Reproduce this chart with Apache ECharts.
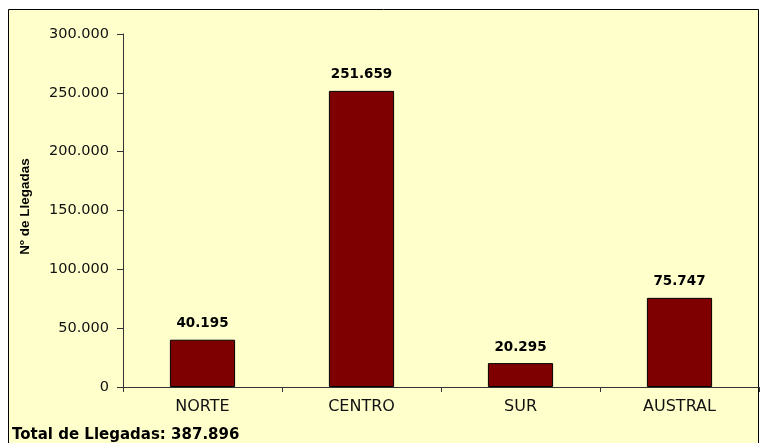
<!DOCTYPE html>
<html>
<head>
<meta charset="utf-8">
<script src="https://cdn.jsdelivr.net/npm/echarts@6/dist/echarts.min.js"></script>
<style>
  html, body { margin: 0; padding: 0; background: #ffffff; }
  #chart { width: 760px; height: 443px; }
</style>
</head>
<body>
<div id="chart"></div>
<script>
// Zonas y llegadas por zona
const zonas = ['NORTE', 'CENTRO', 'SUR', 'AUSTRAL'];
const llegadas = [40195, 251659, 20295, 75747];
const yTicks = [0, 50000, 100000, 150000, 200000, 250000, 300000];
const totalLlegadas = 387896;

// Formato con punto como separador de miles
function miles(v) {
  return String(Math.round(v)).replace(/\B(?=(\d{3})+(?!\d))/g, '.');
}

const FONT = '"DejaVu Sans", Verdana, sans-serif';
const FONT_NAME = '"Liberation Sans", Arial, sans-serif';
const chart = echarts.init(document.getElementById('chart'), null, { renderer: 'canvas' });

chart.setOption({
  backgroundColor: '#ffffff',
  animation: false,
  graphic: [
    {
      type: 'rect',
      z: -10,
      shape: { x: 8.5, y: 9.5, width: 750, height: 460 },
      style: { fill: '#FFFFCC', stroke: '#000000', lineWidth: 1 }
    },
    {
      type: 'text',
      left: 12,
      top: 428,
      style: {
        text: 'Total de Llegadas: ' + miles(totalLlegadas),
        font: 'bold 15px ' + FONT,
        fill: '#000000'
      }
    }
  ],
  grid: { left: 123, right: 1, top: 34, bottom: 56, containLabel: false },
  xAxis: {
    type: 'category',
    data: zonas,
    axisLine: { lineStyle: { color: '#333333', width: 1 } },
    axisTick: { show: true, alignWithLabel: false, length: 5, lineStyle: { color: '#333333' } },
    axisLabel: { color: '#111111', fontFamily: FONT, fontSize: 16, margin: 12 }
  },
  yAxis: {
    type: 'value',
    min: yTicks[0],
    max: yTicks[yTicks.length - 1],
    interval: yTicks[1] - yTicks[0],
    name: 'Nº de Llegadas',
    nameLocation: 'middle',
    nameRotate: 90,
    nameGap: 91,
    nameTextStyle: {
      fontFamily: FONT_NAME, fontSize: 13.5, fontWeight: 'bold', color: '#000000',
      padding: [0, 0, 0, 8]
    },
    axisLine: { show: true, lineStyle: { color: '#333333', width: 1 } },
    axisTick: { show: true, length: 6, lineStyle: { color: '#333333' } },
    splitLine: { show: false },
    axisLabel: {
      color: '#111111', fontFamily: FONT, fontSize: 14.5, margin: 14,
      formatter: v => miles(v)
    }
  },
  series: [{
    type: 'bar',
    data: llegadas,
    barWidth: '41%',
    itemStyle: { color: '#7F0000', borderColor: '#000000', borderWidth: 1 },
    label: {
      show: true,
      position: 'top',
      distance: 9,
      formatter: p => miles(p.value),
      fontFamily: FONT,
      fontSize: 13.5,
      fontWeight: 'bold',
      color: '#000000'
    }
  }]
});
</script>
</body>
</html>
